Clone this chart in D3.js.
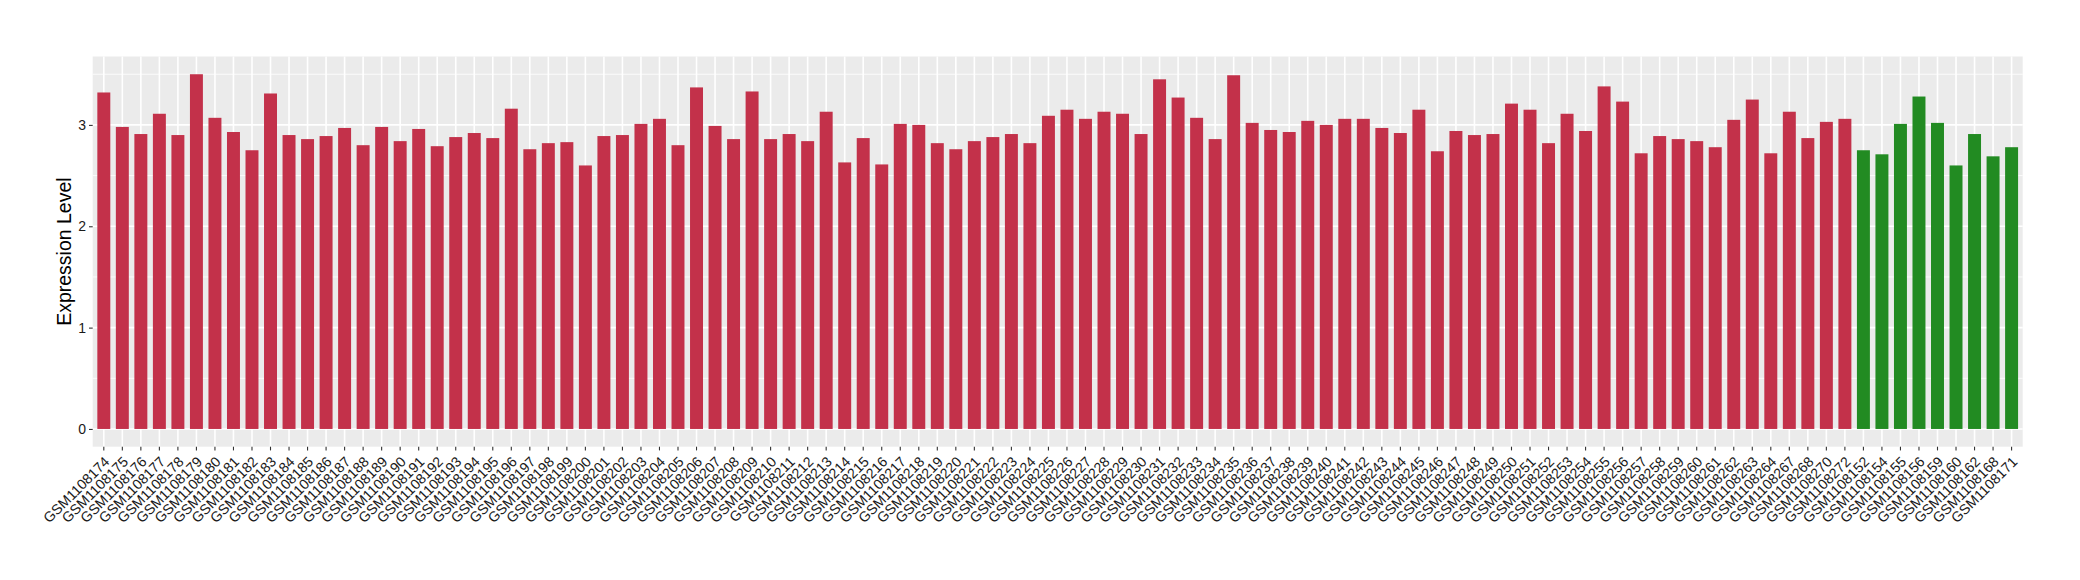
<!DOCTYPE html>
<html>
<head>
<meta charset="utf-8">
<script src="https://cdn.jsdelivr.net/npm/d3@7/dist/d3.min.js"></script>
<style>
  html, body { margin: 0; padding: 0; background: #ffffff; }
  svg { display: block; font-family: "Liberation Sans", Arial, Helvetica, sans-serif; }
</style>
</head>
<body>
<svg id="chart" width="2080" height="580"></svg>
<script>
// ---- data ----
const tumorSamples = [
  "GSM1108174","GSM1108175","GSM1108176","GSM1108177","GSM1108178","GSM1108179","GSM1108180","GSM1108181",
  "GSM1108182","GSM1108183","GSM1108184","GSM1108185","GSM1108186","GSM1108187","GSM1108188","GSM1108189",
  "GSM1108190","GSM1108191","GSM1108192","GSM1108193","GSM1108194","GSM1108195","GSM1108196","GSM1108197",
  "GSM1108198","GSM1108199","GSM1108200","GSM1108201","GSM1108202","GSM1108203","GSM1108204","GSM1108205",
  "GSM1108206","GSM1108207","GSM1108208","GSM1108209","GSM1108210","GSM1108211","GSM1108212","GSM1108213",
  "GSM1108214","GSM1108215","GSM1108216","GSM1108217","GSM1108218","GSM1108219","GSM1108220","GSM1108221",
  "GSM1108222","GSM1108223","GSM1108224","GSM1108225","GSM1108226","GSM1108227","GSM1108228","GSM1108229",
  "GSM1108230","GSM1108231","GSM1108232","GSM1108233","GSM1108234","GSM1108235","GSM1108236","GSM1108237",
  "GSM1108238","GSM1108239","GSM1108240","GSM1108241","GSM1108242","GSM1108243","GSM1108244","GSM1108245",
  "GSM1108246","GSM1108247","GSM1108248","GSM1108249","GSM1108250","GSM1108251","GSM1108252","GSM1108253",
  "GSM1108254","GSM1108255","GSM1108256","GSM1108257","GSM1108258","GSM1108259","GSM1108260","GSM1108261",
  "GSM1108262","GSM1108263","GSM1108264","GSM1108267","GSM1108268","GSM1108270","GSM1108272"
];
const tumorValues = [
  3.32, 2.98, 2.91, 3.11, 2.90, 3.50, 3.07, 2.93,
  2.75, 3.31, 2.90, 2.86, 2.89, 2.97, 2.80, 2.98,
  2.84, 2.96, 2.79, 2.88, 2.92, 2.87, 3.16, 2.76,
  2.82, 2.83, 2.60, 2.89, 2.90, 3.01, 3.06, 2.80,
  3.37, 2.99, 2.86, 3.33, 2.86, 2.91, 2.84, 3.13,
  2.63, 2.87, 2.61, 3.01, 3.00, 2.82, 2.76, 2.84,
  2.88, 2.91, 2.82, 3.09, 3.15, 3.06, 3.13, 3.11,
  2.91, 3.45, 3.27, 3.07, 2.86, 3.49, 3.02, 2.95,
  2.93, 3.04, 3.00, 3.06, 3.06, 2.97, 2.92, 3.15,
  2.74, 2.94, 2.90, 2.91, 3.21, 3.15, 2.82, 3.11,
  2.94, 3.38, 3.23, 2.72, 2.89, 2.86, 2.84, 2.78,
  3.05, 3.25, 2.72, 3.13, 2.87, 3.03, 3.06
];
const normalSamples = [
  "GSM1108152","GSM1108154","GSM1108155","GSM1108156","GSM1108159",
  "GSM1108160","GSM1108162","GSM1108168","GSM1108171"
];
const normalValues = [2.75, 2.71, 3.01, 3.28, 3.02, 2.60, 2.91, 2.69, 2.78];
const yTicks = [0, 1, 2, 3];
const yMinorTicks = [0.5, 1.5, 2.5, 3.5];
const yTitle = "Expression Level";
const groupColors = { tumor: "#C3314A", normal: "#228B22" };

// ---- build rows ----
const rows = tumorSamples.map((s, i) => ({ sample: s, value: tumorValues[i], group: "tumor" }))
  .concat(normalSamples.map((s, i) => ({ sample: s, value: normalValues[i], group: "normal" })));

// ---- layout ----
const svg = d3.select("#chart");
const panel = { left: 92.7, right: 2022.7, top: 56.5, bottom: 446.7 };

const x = d3.scaleBand()
  .domain(rows.map(d => d.sample))
  .range([panel.left, panel.right])
  .paddingInner(0.3)
  .paddingOuter(0.25);

const maxV = d3.max(rows, d => d.value);
const y = d3.scaleLinear()
  .domain([-0.05 * maxV, maxV * 1.05])
  .range([panel.bottom, panel.top]);

// panel background
svg.append("rect")
  .attr("x", panel.left).attr("y", panel.top)
  .attr("width", panel.right - panel.left).attr("height", panel.bottom - panel.top)
  .attr("fill", "#EBEBEB");

// minor grid
svg.append("g").selectAll("line").data(yMinorTicks).join("line")
  .attr("x1", panel.left).attr("x2", panel.right)
  .attr("y1", d => y(d)).attr("y2", d => y(d))
  .attr("stroke", "#ffffff").attr("stroke-width", 0.8);

// major grid horizontal
svg.append("g").selectAll("line").data(yTicks).join("line")
  .attr("x1", panel.left).attr("x2", panel.right)
  .attr("y1", d => y(d)).attr("y2", d => y(d))
  .attr("stroke", "#ffffff").attr("stroke-width", 1.6);

// major grid vertical
svg.append("g").selectAll("line").data(rows).join("line")
  .attr("x1", d => x(d.sample) + x.bandwidth() / 2).attr("x2", d => x(d.sample) + x.bandwidth() / 2)
  .attr("y1", panel.top).attr("y2", panel.bottom)
  .attr("stroke", "#ffffff").attr("stroke-width", 1.6);

// bars
svg.append("g").selectAll("rect").data(rows).join("rect")
  .attr("x", d => x(d.sample))
  .attr("width", x.bandwidth())
  .attr("y", d => y(d.value))
  .attr("height", d => y(0) - y(d.value))
  .attr("fill", d => groupColors[d.group]);

// y axis
const yAxis = d3.axisLeft(y).tickValues(yTicks).tickSize(3.7).tickPadding(3).tickFormat(d3.format("d"));
const gy = svg.append("g").attr("transform", `translate(${panel.left},0)`).call(yAxis);
gy.select(".domain").remove();
gy.selectAll(".tick line").attr("stroke", "#333333").attr("stroke-width", 1.1);
gy.selectAll(".tick text").attr("fill", "#1a1a1a").attr("font-size", "14px")
  .attr("font-family", "Liberation Sans, Arial, sans-serif");

// x axis
const xAxis = d3.axisBottom(x).tickSize(3.7).tickPadding(3);
const gx = svg.append("g").attr("transform", `translate(0,${panel.bottom})`).call(xAxis);
gx.select(".domain").remove();
gx.selectAll(".tick line").attr("stroke", "#333333").attr("stroke-width", 1.1);
gx.selectAll(".tick text")
  .attr("fill", "#1a1a1a")
  .attr("font-size", "14.2px")
  .attr("font-family", "Liberation Sans, Arial, sans-serif")
  .attr("text-anchor", "end")
  .attr("y", 0).attr("x", 0)
  .attr("dx", -2).attr("dy", "0.8em")
  .attr("transform", "translate(0,6.5) rotate(-45)");

// y title
svg.append("text")
  .attr("transform", `translate(71,${(panel.top + panel.bottom) / 2}) rotate(-90)`)
  .attr("text-anchor", "middle")
  .attr("font-size", "19.5px")
  .attr("fill", "#000000")
  .text(yTitle);
</script>
</body>
</html>
